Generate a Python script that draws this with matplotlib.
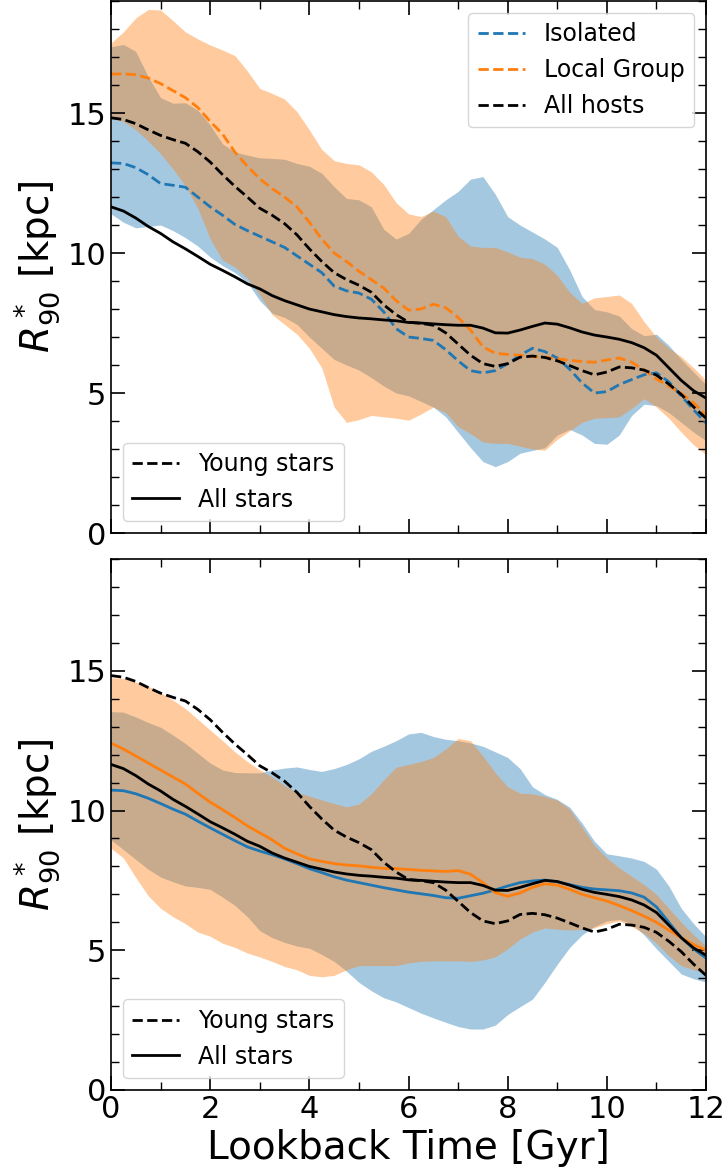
import numpy as np
import matplotlib
matplotlib.use("Agg")
import matplotlib.pyplot as plt
from matplotlib.ticker import MultipleLocator

# Lookback time grid [Gyr]
t = [0.0, 0.25, 0.5, 0.75, 1.0, 1.25, 1.5, 1.75, 2.0, 2.25, 2.5, 2.75,
     3.0, 3.25, 3.5, 3.75, 4.0, 4.25, 4.5, 4.75, 5.0, 5.25, 5.5, 5.75,
     6.0, 6.25, 6.5, 6.75, 7.0, 7.25, 7.5, 7.75, 8.0, 8.25, 8.5, 8.75,
     9.0, 9.25, 9.5, 9.75, 10.0, 10.25, 10.5, 10.75, 11.0, 11.25, 11.5, 11.75, 12.0]

# ---------------- Top panel: young stars ----------------
iso_young = [13.22, 13.2, 13.05, 12.8, 12.48, 12.42, 12.35, 12.0, 11.65, 11.35, 11.02, 10.8,
             10.6, 10.4, 10.2, 9.9, 9.6, 9.3, 8.82, 8.65, 8.57, 8.35, 7.9, 7.3,
             7.0, 6.95, 6.88, 6.55, 6.15, 5.8, 5.72, 5.8, 6.05, 6.35, 6.6, 6.48,
             6.25, 5.85, 5.36, 5.0, 5.05, 5.3, 5.48, 5.65, 5.72, 5.4, 4.9, 4.4, 3.93]
lg_young = [16.39, 16.4, 16.37, 16.25, 16.05, 15.8, 15.55, 15.2, 14.7, 14.25, 13.6, 13.1,
            12.65, 12.3, 12.0, 11.65, 11.1, 10.5, 10.0, 9.7, 9.35, 9.05, 8.75, 8.3,
            7.96, 8.0, 8.17, 8.05, 7.7, 7.25, 6.65, 6.42, 6.38, 6.35, 6.3, 6.28,
            6.22, 6.17, 6.12, 6.1, 6.18, 6.25, 6.1, 5.82, 5.5, 5.25, 4.98, 4.65, 4.2]
all_young = [14.83, 14.77, 14.62, 14.4, 14.2, 14.05, 13.92, 13.62, 13.25, 12.8, 12.38, 12.0,
             11.6, 11.35, 11.05, 10.65, 10.15, 9.7, 9.3, 9.05, 8.85, 8.6, 8.15, 7.8,
             7.53, 7.49, 7.42, 7.15, 6.75, 6.35, 6.05, 5.95, 6.05, 6.28, 6.32, 6.27,
             6.15, 5.98, 5.8, 5.65, 5.75, 5.93, 5.9, 5.82, 5.64, 5.32, 4.95, 4.5, 4.1]
all_all = [11.65, 11.5, 11.25, 10.95, 10.7, 10.4, 10.15, 9.88, 9.6, 9.38, 9.15, 8.9,
           8.72, 8.48, 8.3, 8.15, 8.0, 7.9, 7.8, 7.73, 7.68, 7.65, 7.61, 7.58,
           7.52, 7.5, 7.47, 7.44, 7.42, 7.42, 7.32, 7.15, 7.14, 7.25, 7.38, 7.5,
           7.46, 7.33, 7.18, 7.07, 7.0, 6.92, 6.8, 6.62, 6.35, 5.9, 5.45, 5.08, 4.82]

iso_young_hi = [17.37, 17.45, 17.2, 16.3, 15.55, 15.35, 15.37, 15.1, 14.57, 13.9, 13.6, 13.5,
                13.4, 13.38, 13.35, 13.2, 13.1, 12.85, 12.37, 11.95, 11.9, 11.65, 10.85, 10.5,
                10.7, 11.2, 11.55, 11.9, 12.2, 12.64, 12.73, 12.1, 11.3, 11.0, 10.75, 10.5,
                10.2, 9.4, 8.45, 7.98, 7.9, 7.75, 7.3, 7.05, 7.1, 6.7, 6.2, 5.75, 5.3]
iso_young_lo = [11.4, 11.1, 10.9, 10.95, 11.0, 10.8, 10.55, 10.25, 9.86, 9.55, 9.3, 8.95,
                8.3, 7.85, 7.7, 7.45, 7.0, 6.6, 6.2, 6.0, 5.82, 5.55, 5.25, 5.0,
                4.9, 4.7, 4.5, 4.15, 3.6, 3.05, 2.55, 2.37, 2.55, 2.85, 2.95, 3.05,
                3.5, 3.7, 3.5, 3.2, 3.17, 3.5, 4.2, 4.6, 4.55, 4.3, 3.95, 3.6, 3.3]
lg_young_hi = [17.5, 17.9, 18.4, 18.7, 18.68, 18.3, 17.9, 17.65, 17.43, 17.25, 17.05, 16.5,
               15.88, 15.7, 15.5, 15.05, 14.4, 13.7, 13.3, 13.2, 13.15, 12.9, 12.45, 11.8,
               11.4, 11.3, 11.5, 11.3, 10.6, 10.25, 10.2, 10.2, 10.04, 9.85, 9.8, 9.6,
               9.2, 8.6, 8.2, 8.4, 8.45, 8.5, 8.2, 7.55, 7.0, 6.6, 6.3, 5.9, 5.45]
lg_young_lo = [14.8, 14.7, 14.4, 14.0, 13.55, 13.0, 12.4, 11.6, 10.5, 9.75, 9.5, 9.1,
               8.5, 7.8, 7.45, 7.1, 6.6, 5.9, 4.5, 3.95, 4.05, 4.2, 4.15, 4.1,
               4.03, 4.25, 4.5, 4.3, 3.8, 3.55, 3.25, 3.2, 3.2, 3.1, 3.0, 2.96,
               3.35, 3.65, 3.95, 4.1, 4.12, 4.15, 4.45, 4.8, 4.5, 4.1, 3.6, 3.15, 2.8]

# ---------------- Bottom panel: all stars ----------------
iso_all = [10.73, 10.71, 10.6, 10.44, 10.25, 10.05, 9.87, 9.62, 9.38, 9.15, 8.92, 8.7,
           8.55, 8.42, 8.27, 8.1, 7.92, 7.78, 7.63, 7.51, 7.42, 7.33, 7.24, 7.16,
           7.08, 7.02, 6.96, 6.88, 6.86, 6.95, 7.04, 7.16, 7.3, 7.42, 7.48, 7.51,
           7.45, 7.35, 7.25, 7.19, 7.16, 7.13, 7.05, 6.9, 6.55, 6.0, 5.45, 5.05, 4.72]
lg_all = [12.41, 12.2, 11.95, 11.7, 11.45, 11.2, 10.95, 10.62, 10.3, 10.03, 9.75, 9.45,
          9.2, 8.95, 8.65, 8.45, 8.27, 8.18, 8.1, 8.05, 8.02, 7.97, 7.93, 7.92,
          7.89, 7.86, 7.84, 7.82, 7.85, 7.72, 7.42, 7.06, 6.93, 7.05, 7.25, 7.38,
          7.33, 7.18, 7.0, 6.88, 6.76, 6.6, 6.42, 6.22, 6.0, 5.72, 5.45, 5.2, 5.0]

iso_all_hi = [13.54, 13.52, 13.35, 13.15, 12.98, 12.7, 12.4, 12.05, 11.7, 11.45, 11.36, 11.35,
              11.35, 11.45, 11.52, 11.56, 11.47, 11.4, 11.5, 11.65, 11.85, 12.12, 12.3, 12.5,
              12.74, 12.8, 12.65, 12.55, 12.5, 12.42, 12.3, 12.1, 11.9, 11.5, 10.85, 10.57,
              10.4, 10.12, 9.55, 8.9, 8.45, 8.38, 8.3, 8.18, 7.9, 7.3, 6.5, 5.95, 5.48]
iso_all_lo = [8.95, 8.6, 8.25, 7.9, 7.62, 7.45, 7.3, 7.25, 7.18, 6.9, 6.6, 6.2,
              5.7, 5.45, 5.28, 5.15, 5.07, 4.85, 4.6, 4.25, 3.85, 3.55, 3.3, 3.15,
              2.95, 2.75, 2.58, 2.42, 2.27, 2.18, 2.18, 2.32, 2.7, 2.98, 3.25, 3.85,
              4.5, 5.1, 5.55, 5.85, 6.05, 6.1, 5.95, 5.55, 5.05, 4.6, 4.15, 3.98, 3.86]
lg_all_hi = [14.75, 14.73, 14.6, 14.45, 14.22, 13.95, 13.65, 13.27, 12.88, 12.5, 12.1, 11.75,
             11.45, 11.2, 10.9, 10.65, 10.52, 10.38, 10.25, 10.13, 10.23, 10.6, 11.1, 11.55,
             11.65, 11.75, 11.9, 12.2, 12.58, 12.5, 11.95, 11.35, 10.85, 10.62, 10.6, 10.5,
             10.37, 10.05, 9.4, 8.75, 8.3, 7.95, 7.65, 7.35, 7.0, 6.5, 6.0, 5.55, 5.15]
lg_all_lo = [8.65, 8.3, 7.6, 6.95, 6.5, 6.2, 5.95, 5.65, 5.5, 5.25, 5.1, 4.9,
             4.76, 4.6, 4.42, 4.3, 4.1, 4.05, 4.1, 4.3, 4.45, 4.45, 4.45, 4.45,
             4.55, 4.6, 4.62, 4.62, 4.62, 4.6, 4.65, 4.76, 5.05, 5.4, 5.65, 5.8,
             5.75, 5.72, 5.75, 5.8, 5.95, 6.05, 5.85, 5.6, 5.25, 4.8, 4.45, 4.3, 4.17]

BLUE = "#1f77b4"
ORANGE = "#ff7f0e"

fig = plt.figure(figsize=(7.26, 11.73), dpi=100)
ax1 = fig.add_axes([0.1529, 0.5456, 0.8196, 0.4535])
ax2 = fig.add_axes([0.1529, 0.0708, 0.8196, 0.4526])

TICK_FS = 22
LABEL_FS = 28
LEG_FS = 17

def style(ax, show_x):
    ax.set_xlim(0, 12)
    ax.set_ylim(0, 19)
    ax.xaxis.set_major_locator(MultipleLocator(2))
    ax.xaxis.set_minor_locator(MultipleLocator(1))
    ax.yaxis.set_major_locator(MultipleLocator(5))
    ax.yaxis.set_minor_locator(MultipleLocator(1))
    ax.tick_params(which="both", direction="in", top=True, right=True,
                   labelsize=TICK_FS)
    ax.tick_params(which="major", length=10, width=1.2)
    ax.tick_params(which="minor", length=5.5, width=1.0)
    for s in ax.spines.values():
        s.set_linewidth(1.2)
    if not show_x:
        ax.tick_params(labelbottom=False)
    ax.set_ylabel(r"$R^*_{90}$ [kpc]", fontsize=LABEL_FS)

# Top panel
ax1.fill_between(t, iso_young_lo, iso_young_hi, color=BLUE, alpha=0.4, lw=0)
ax1.fill_between(t, lg_young_lo, lg_young_hi, color=ORANGE, alpha=0.4, lw=0)
h1, = ax1.plot(t, iso_young, color=BLUE, ls="--", lw=2, label="Isolated")
h2, = ax1.plot(t, lg_young, color=ORANGE, ls="--", lw=2, label="Local Group")
h3, = ax1.plot(t, all_young, color="black", ls="--", lw=2, label="All hosts")
ax1.plot(t, all_all, color="black", ls="-", lw=2)
style(ax1, False)
leg1 = ax1.legend(handles=[h1, h2, h3], loc="upper right", fontsize=LEG_FS)
ax1.add_artist(leg1)
d1, = ax1.plot([], [], color="black", ls="--", lw=2, label="Young stars")
s1, = ax1.plot([], [], color="black", ls="-", lw=2, label="All stars")
ax1.legend(handles=[d1, s1], loc="lower left", fontsize=LEG_FS)

# Bottom panel
ax2.fill_between(t, iso_all_lo, iso_all_hi, color=BLUE, alpha=0.4, lw=0)
ax2.fill_between(t, lg_all_lo, lg_all_hi, color=ORANGE, alpha=0.4, lw=0)
ax2.plot(t, iso_all, color=BLUE, ls="-", lw=2)
ax2.plot(t, lg_all, color=ORANGE, ls="-", lw=2)
ax2.plot(t, all_young, color="black", ls="--", lw=2)
ax2.plot(t, all_all, color="black", ls="-", lw=2)
style(ax2, True)
d2, = ax2.plot([], [], color="black", ls="--", lw=2, label="Young stars")
s2, = ax2.plot([], [], color="black", ls="-", lw=2, label="All stars")
ax2.legend(handles=[d2, s2], loc="lower left", fontsize=LEG_FS)
ax2.set_xlabel("Lookback Time [Gyr]", fontsize=LABEL_FS)

fig.savefig("out.png", dpi=100)
